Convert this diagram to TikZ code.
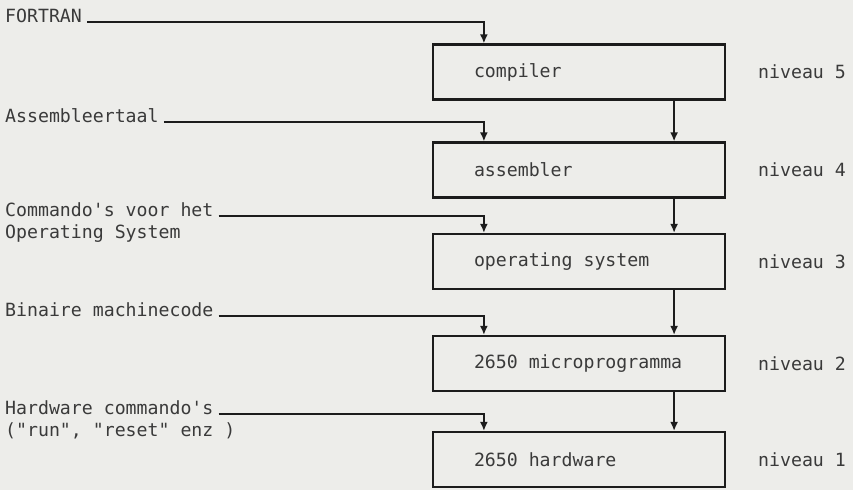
\documentclass[tikz,border=0pt]{standalone}
\usepackage{fontspec}
\setmonofont{DejaVu Sans Mono}
\usetikzlibrary{arrows.meta, positioning}
\definecolor{paper-grey}{HTML}{EDEDEA}
\definecolor{ink}{HTML}{1C1C1C}
\definecolor{ink-soft}{HTML}{3A3A3A}

\tikzset{
  levelbox/.style={draw=ink, line width=2.2pt, text width=210pt, inner xsep=41pt,
        minimum height=55pt, align=flush left, text=ink-soft},
  feedline/.style={draw=ink, line width=1.8pt, -{Latex[length=9pt, width=8pt]}},
  srclabel/.style={anchor=base west, text=ink-soft, inner xsep=5pt},
}

\begin{document}
\begin{tikzpicture}[x=1pt, y=-1pt,
      every node/.style={font=\ttfamily\fontsize{18.2}{22}\selectfont}]
    \fill[paper-grey] (0,0) rectangle (853,490);
    \useasboundingbox (0,0) rectangle (853,490);
    % levels
    \node[levelbox] (L5) at (579,72) {compiler};
    \node[levelbox] (L4) at (579,170) {assembler};
    \node[levelbox] (L3) at (579,261.5) {operating system};
    \node[levelbox] (L2) at (579,363.5) {2650 microprogramma};
    \node[levelbox] (L1) at (579,459.5) {2650 hardware};
    \foreach \n in {5,4,3,2,1} {
      \node[anchor=west, text=ink-soft, inner sep=0pt] (N\n) at (758,0 |- L\n.center) {niveau \n};
    }
    \foreach \a/\b in {L5/L4, L4/L3, L3/L2, L2/L1} {
      \draw[feedline] ([xshift=-52pt]\a.south east) -- ([xshift=-52pt]\b.north east);
    }
    % inputs
    \node[srclabel] (fortran) at (0,22) {FORTRAN};
    \node[srclabel] (asm) at (0,122) {Assembleertaal};
    \node[srclabel] (cmd) at (0,216) {Commando's voor het};
    \node[srclabel] (cmdB) at ([yshift=-22pt]cmd.base west) {Operating System};
    \node[srclabel] (bin) at (0,316) {Binaire machinecode};
    \node[srclabel] (hw) at (0,414) {Hardware commando's};
    \node[srclabel] (hwB) at ([yshift=-22pt]hw.base west) {("run", "reset" enz )};
    \draw[feedline] (fortran.base east) -| ([xshift=52pt]L5.north west);
    \draw[feedline] (asm.base east) -| ([xshift=52pt]L4.north west);
    \draw[feedline] (cmd.base east) -| ([xshift=52pt]L3.north west);
    \draw[feedline] (bin.base east) -| ([xshift=52pt]L2.north west);
    \draw[feedline] (hw.base east) -| ([xshift=52pt]L1.north west);
\end{tikzpicture}
\end{document}
